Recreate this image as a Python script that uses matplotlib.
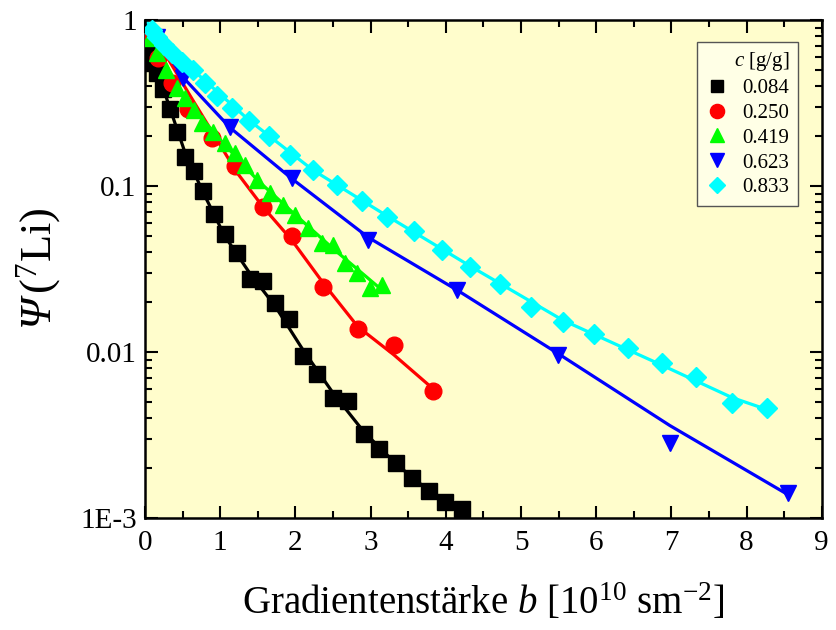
import numpy as np
import matplotlib
matplotlib.use('Agg')
import matplotlib.pyplot as plt
from matplotlib.ticker import FixedLocator, FixedFormatter, MultipleLocator, LogLocator, NullFormatter

plt.rcParams['font.family'] = ['Liberation Serif', 'DejaVu Serif']
plt.rcParams['mathtext.fontset'] = 'custom'
plt.rcParams['mathtext.rm'] = 'Liberation Serif'
plt.rcParams['mathtext.it'] = 'Liberation Serif:italic'
plt.rcParams['mathtext.bf'] = 'Liberation Serif:bold'
# italic capital Greek goes through the sf slot
plt.rcParams['mathtext.sf'] = 'Liberation Serif:italic'

# measured echo attenuation, c = 0.084 g/g
b_084 = [0.035, 0.07, 0.11, 0.16, 0.24, 0.33, 0.43, 0.53, 0.65, 0.77, 0.92, 1.06, 1.22, 1.40,
         1.57, 1.73, 1.91, 2.10, 2.29, 2.50, 2.70, 2.91, 3.11, 3.34, 3.55, 3.78, 3.99, 4.22]
psi_084 = [0.78, 0.63, 0.55, 0.48, 0.384, 0.291, 0.211, 0.150, 0.123, 0.0933, 0.0678, 0.0514,
           0.0395, 0.0275, 0.0268, 0.0197, 0.0158, 0.00946, 0.00737, 0.00528, 0.00507, 0.00321,
           0.00260, 0.00214, 0.00174, 0.00145, 0.00125, 0.00113]
fit_b_084 = [0, 0.16, 0.33, 0.53, 0.77, 1.06, 1.40, 1.73, 2.10, 2.50, 2.91, 3.34, 3.78, 4.22]
fit_psi_084 = [1, 0.50, 0.295, 0.160, 0.092, 0.050, 0.0295, 0.0189, 0.0103, 0.00566, 0.0033,
               0.00211, 0.00145, 0.00109]

# c = 0.250 g/g
b_250 = [0.05, 0.17, 0.36, 0.57, 0.89, 1.20, 1.57, 1.95, 2.37, 2.83, 3.31, 3.83]
psi_250 = [0.81, 0.59, 0.42, 0.291, 0.195, 0.132, 0.0747, 0.050, 0.0246, 0.0138, 0.0110, 0.00582]
fit_b_250 = [0, 0.6, 1.22, 1.57, 1.95, 2.37, 2.83, 3.31, 3.83]
fit_psi_250 = [1, 0.35, 0.121, 0.0747, 0.0473, 0.026, 0.0142, 0.0096, 0.0060]

# c = 0.419 g/g
b_419 = [0.07, 0.16, 0.28, 0.43, 0.53, 0.65, 0.76, 0.90, 1.06, 1.20, 1.33, 1.49, 1.66, 1.84,
         2.00, 2.17, 2.35, 2.50, 2.66, 2.82, 2.99, 3.15]
psi_419 = [0.78, 0.63, 0.50, 0.389, 0.339, 0.287, 0.240, 0.211, 0.182, 0.158, 0.134, 0.109,
           0.0908, 0.0769, 0.0669, 0.0558, 0.0454, 0.0441, 0.0344, 0.0299, 0.0243, 0.0253]
fit_b_419 = [0, 0.25, 0.5, 1.0, 1.5, 2.0, 2.5, 3.1]
fit_psi_419 = [1, 0.57, 0.35, 0.19, 0.108, 0.067, 0.042, 0.0247]

# c = 0.623 g/g
b_623 = [0.16, 0.51, 1.13, 1.95, 2.97, 4.15, 5.49, 6.98, 8.55]
psi_623 = [0.79, 0.447, 0.227, 0.112, 0.0473, 0.0236, 0.0096, 0.00283, 0.00141]
fit_b_623 = [0, 0.51, 1.13, 1.95, 2.97, 4.15, 5.49, 6.98, 8.55]
fit_psi_623 = [1, 0.45, 0.225, 0.111, 0.049, 0.0236, 0.0098, 0.0036, 0.00138]

# c = 0.833 g/g
b_833 = [0.09, 0.16, 0.25, 0.36, 0.49, 0.64, 0.80, 0.96, 1.16, 1.38, 1.65, 1.93, 2.23, 2.55,
         2.89, 3.22, 3.58, 3.95, 4.32, 4.72, 5.13, 5.56, 5.97, 6.42, 6.88, 7.33, 7.81, 8.27]
psi_833 = [0.87, 0.79, 0.71, 0.63, 0.56, 0.50, 0.42, 0.348, 0.295, 0.246, 0.200, 0.154, 0.125,
           0.101, 0.0812, 0.0651, 0.0536, 0.0411, 0.0325, 0.0257, 0.0187, 0.0152, 0.0128,
           0.0106, 0.0086, 0.0071, 0.0049, 0.0046]
fit_b_833 = [0, 0.64, 1.38, 2.23, 3.22, 4.32, 5.56, 6.88, 7.81, 8.27]
fit_psi_833 = [1, 0.50, 0.25, 0.125, 0.066, 0.033, 0.0155, 0.0083, 0.0053, 0.0045]

labels = ['0.084', '0.250', '0.419', '0.623', '0.833']
colors = ['black', 'red', '#00FF00', 'blue', 'cyan']
markers = ['s', 'o', '^', 'v', 'D']
sizes = [11, 12, 12, 12, 10]

series = [(b_084, psi_084, fit_b_084, fit_psi_084),
          (b_250, psi_250, fit_b_250, fit_psi_250),
          (b_419, psi_419, fit_b_419, fit_psi_419),
          (b_623, psi_623, fit_b_623, fit_psi_623),
          (b_833, psi_833, fit_b_833, fit_psi_833)]

fig = plt.figure(figsize=(8.36, 6.30), dpi=100)
ax = fig.add_axes([0.1735, 0.178, 0.8095, 0.790])
ax.set_facecolor('#FFFDCC')

# curves first, symbols on top
for (bx, py, fx, fy), col in zip(series, colors):
    ax.plot(fx, fy, '-', color=col, lw=2.3, zorder=2)
for (bx, py, fx, fy), col, m, s, lab in zip(series, colors, markers, sizes, labels):
    ax.plot(bx, py, linestyle='none', marker=m, ms=s, color=col, mec=col, label=lab, zorder=3)

ax.set_yscale('log')
ax.set_xlim(0, 9)
ax.set_ylim(1e-3, 1)

ax.xaxis.set_major_locator(MultipleLocator(1))
ax.xaxis.set_minor_locator(MultipleLocator(0.5))
ax.yaxis.set_major_locator(FixedLocator([1e-3, 1e-2, 1e-1, 1]))
ax.yaxis.set_major_formatter(FixedFormatter(['1E-3', '0.01', '0.1', '1']))
ax.yaxis.set_minor_locator(LogLocator(base=10, subs=np.arange(2, 10)))
ax.yaxis.set_minor_formatter(NullFormatter())

ax.tick_params(which='both', direction='in', top=True, right=True, width=1.5, labelsize=21)
ax.tick_params(which='major', length=9)
ax.tick_params(which='minor', length=5)
ax.tick_params(axis='x', pad=9)
ax.tick_params(axis='y', pad=6)
for sp in ax.spines.values():
    sp.set_linewidth(1.8)

ax.set_xlabel(r'Gradientenstärke $b$ [10$^{10}$ sm$^{-2}$]', fontsize=28, labelpad=19)
ax.set_ylabel(r'$\mathsf{Ψ}\,({}^{7}\mathrm{Li})$', fontsize=32, labelpad=12)

leg = ax.legend(loc='upper right', bbox_to_anchor=(0.9645, 0.956), borderaxespad=0,
                title=r'$c$ [g/g]', fontsize=15, title_fontsize=15, alignment='right',
                frameon=True, fancybox=False, edgecolor='#555555', facecolor='#FFFFE6',
                framealpha=1, handletextpad=0.6, labelspacing=0.25, borderpad=0.4,
                markerscale=0.85, handlelength=1.2)
leg.get_frame().set_linewidth(1.0)

fig.savefig('out.png', dpi=100)
